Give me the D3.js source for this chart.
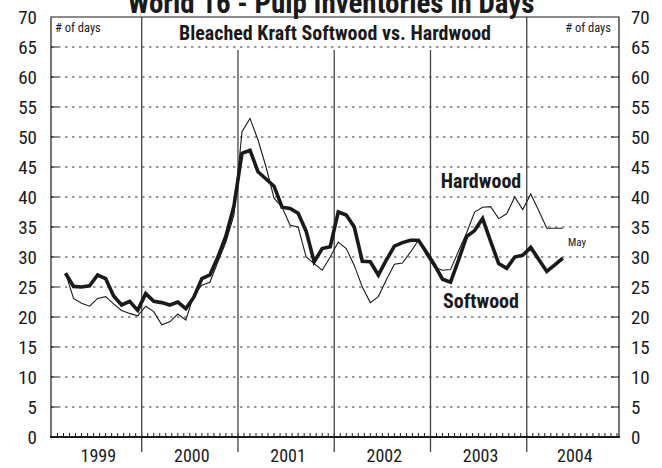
<!DOCTYPE html>
<html><head><meta charset="utf-8">
<script src="https://cdn.jsdelivr.net/npm/d3@7"></script>
<style>
body{margin:0;background:#fff;}
text{font-family:"Liberation Sans Narrow","Roboto Condensed","DejaVu Sans Condensed",sans-serif;fill:#1a1a1a;}
</style></head><body>
<svg id="c" width="662" height="468"></svg>
<script>
// Monthly data, March 1999 .. May 2004
const firstMonth = 2; // months since Jan 1999 (March 1999)
const softwood = [27.3,25.1,25.0,25.2,27.0,26.4,23.5,22.0,22.6,21.1,
  23.9,22.6,22.4,22.0,22.5,21.4,23.3,26.4,27.0,30.0,33.5,38.5,
  47.3,47.8,44.2,43.0,41.8,38.3,38.1,37.3,34.3,29.2,31.4,31.7,
  37.5,37.0,35.0,29.3,29.2,27.0,29.5,31.8,32.4,32.8,32.8,30.8,
  28.7,26.3,25.8,29.5,33.4,34.4,36.4,32.6,28.9,28.1,30.0,30.3,
  31.6,29.6,27.6,28.7,29.8];
const hardwood = [27.3,23.1,22.3,21.8,23.1,23.4,22.2,21.1,20.6,20.2,
  21.8,20.9,18.7,19.2,20.5,19.5,23.7,25.3,25.8,29.2,32.5,37.0,
  50.9,53.1,49.5,45.0,39.8,38.3,35.3,35.0,30.0,28.9,27.8,30.0,
  32.5,31.4,28.6,25.0,22.4,23.4,26.2,28.8,29.0,30.8,32.8,30.3,
  28.3,27.8,27.9,31.0,34.0,37.5,38.3,38.4,36.4,37.2,40.0,37.9,
  40.5,37.7,34.8,34.8,34.8];
const years = ["1999","2000","2001","2002","2003","2004"];
const yTicks = d3.range(0, 71, 5);

const svg = d3.select("#c");
const x = d3.scaleLinear().domain([0, 72]).range([45.45, 623]);
const y = d3.scaleLinear().domain([0, 70]).range([437, 17]);
const m0 = 0.69, m1 = 71.5;
const L = x(m0), R = x(m1), T = y(70), B = y(0);
const ink = "#1a1a1a";

// title (clipped at top, as in the source)
svg.append("text").attr("x", 331).attr("y", 13).attr("text-anchor", "middle")
  .attr("font-size", 29).attr("font-weight", "bold")
  .text("World 16 - Pulp Inventories in Days");

// gridlines
const grid = yTicks.filter(v => v > 0 && v < 70);
svg.append("g").selectAll("line").data(grid).join("line")
  .attr("x1", L).attr("x2", R).attr("y1", d => y(d)).attr("y2", d => y(d))
  .attr("stroke", "#333").attr("stroke-width", 1).attr("stroke-dasharray", "2.5,4.5");
svg.append("g").selectAll("line").data(grid).join("line")
  .attr("x1", L).attr("x2", L + 7).attr("y1", d => y(d)).attr("y2", d => y(d))
  .attr("stroke", ink).attr("stroke-width", 1);
svg.append("g").selectAll("line").data(grid).join("line")
  .attr("x1", R - 8).attr("x2", R).attr("y1", d => y(d)).attr("y2", d => y(d))
  .attr("stroke", ink).attr("stroke-width", 1);

// axes labels
const yl = d3.axisLeft(y).tickValues(yTicks).tickSize(0).tickPadding(0);
const gl = svg.append("g").attr("transform", `translate(${L - 14},0)`).call(yl);
gl.select(".domain").remove();
gl.selectAll("text").attr("font-size", 19).attr("font-family", null).attr("fill", ink);
const yr = d3.axisRight(y).tickValues(yTicks).tickSize(0).tickPadding(0);
const gr = svg.append("g").attr("transform", `translate(${R + 12},0)`).call(yr);
gr.select(".domain").remove();
gr.selectAll("text").attr("font-size", 19).attr("font-family", null).attr("fill", ink);

// minor bottom ticks
const minor = d3.range(0, 72.01, 0.75).filter(m => m > m0 + 0.2 && m < m1 - 0.2);
svg.append("g").selectAll("line").data(minor).join("line")
  .attr("x1", d => x(d)).attr("x2", d => x(d)).attr("y1", B).attr("y2", B - 4)
  .attr("stroke", ink).attr("stroke-width", 1);

// year separators
const seps = [12, 24, 36, 48, 60];
svg.append("g").selectAll("line").data(seps).join("line")
  .attr("x1", d => x(d)).attr("x2", d => x(d))
  .attr("y1", d => (d === 12 || d === 60) ? T : 50).attr("y2", 452)
  .attr("stroke", "#444").attr("stroke-width", 1.3);

// year labels
svg.append("g").selectAll("text").data(years).join("text")
  .attr("x", (d, i) => (x(Math.max(i * 12, m0)) + x(Math.min(i * 12 + 12, m1))) / 2 + 2)
  .attr("y", 462).attr("text-anchor", "middle").attr("font-size", 18).text(d => d);

// frame
svg.append("path")
  .attr("d", `M${L},${B}V${T}H${R}V${B}`)
  .attr("fill", "none").attr("stroke", ink).attr("stroke-width", 1.2);
svg.append("line").attr("x1", L - 1).attr("x2", R + 1).attr("y1", B).attr("y2", B)
  .attr("stroke", ink).attr("stroke-width", 2);

// text labels
svg.append("text").attr("x", 55).attr("y", 32).attr("font-size", 12.5).attr("fill", "#333").text("# of days");
svg.append("text").attr("x", 611).attr("y", 32).attr("font-size", 12.5).attr("text-anchor", "end").attr("fill", "#333").text("# of days");
svg.append("text").attr("x", 335).attr("y", 40).attr("text-anchor", "middle")
  .attr("font-size", 20).attr("font-weight", "bold").text("Bleached Kraft Softwood vs. Hardwood");

// lines
const line = d3.line().x((d, i) => x(firstMonth + i + 0.5)).y(d => y(d));
svg.append("path").datum(hardwood).attr("d", line)
  .attr("fill", "none").attr("stroke", ink).attr("stroke-width", 1.1).attr("stroke-linejoin", "miter");
svg.append("path").datum(softwood).attr("d", line)
  .attr("fill", "none").attr("stroke", ink).attr("stroke-width", 3.6).attr("stroke-linejoin", "miter");

svg.append("text").attr("x", 481).attr("y", 188).attr("text-anchor", "middle")
  .attr("font-size", 20).attr("font-weight", "bold").text("Hardwood");
svg.append("text").attr("x", 481).attr("y", 308).attr("text-anchor", "middle")
  .attr("font-size", 20).attr("font-weight", "bold").text("Softwood");
svg.append("text").attr("x", 568).attr("y", 246).attr("font-size", 11).attr("fill", "#555").text("May");
</script>
</body></html>
